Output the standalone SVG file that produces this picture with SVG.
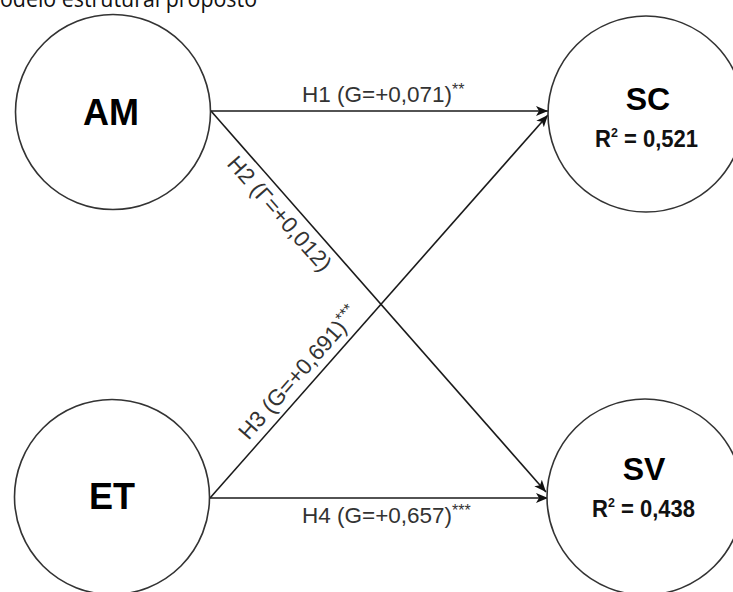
<svg xmlns="http://www.w3.org/2000/svg" width="733" height="592" viewBox="0 0 733 592">
<style>
.node{fill:#ffffff;stroke:#333333;stroke-width:1.6}
.lbl{font-family:"Liberation Sans",Arial,sans-serif;font-size:36px;font-weight:bold;fill:#000000;text-anchor:middle}
.lbl2{font-family:"Liberation Sans",Arial,sans-serif;font-size:32px;font-weight:bold;fill:#000000;text-anchor:middle}
.r2{font-family:"Liberation Sans",Arial,sans-serif;font-size:23px;font-weight:bold;fill:#111111}
.sup{font-size:13px}
.edge{stroke:#1a1a1a;stroke-width:1.6;fill:none;marker-end:url(#arr)}
.elbl{font-family:"Liberation Sans",Arial,sans-serif;font-size:22.5px;fill:#333333}
.ast{font-size:16px}
.title{font-family:"Open Sans","Liberation Sans",sans-serif;font-size:24px;fill:#111111}
</style>
<defs>
<marker id="arr" markerUnits="userSpaceOnUse" markerWidth="14" markerHeight="12" refX="12" refY="5" orient="auto">
<path d="M0,0 L12,5 L0,10 L3,5 z" fill="#111111"/>
</marker>
</defs>
<rect width="733" height="592" fill="#ffffff"/>
<text class="title" x="0" y="7" textLength="257" lengthAdjust="spacingAndGlyphs">odelo estrutural proposto</text>

<g id="connectors">
<line class="edge" x1="211" y1="111" x2="548" y2="111"/>
<line class="edge" x1="211" y1="111" x2="546" y2="492"/>
<line class="edge" x1="210" y1="498" x2="548" y2="115"/>
<line class="edge" x1="210" y1="498" x2="548" y2="498"/>
<text class="elbl" x="302" y="102">H1 (G=+0,071)<tspan class="ast" dy="-7">**</tspan></text>
<text class="elbl" transform="translate(279,214) rotate(48.7)" text-anchor="middle" y="7">H2 (Γ=+0,012)</text>
<text class="elbl" transform="translate(299,373) rotate(-48.7)" text-anchor="middle" y="7">H3 (G=+0,691)<tspan class="ast" dy="-7">***</tspan></text>
<text class="elbl" x="302" y="523">H4 (G=+0,657)<tspan class="ast" dy="-7">***</tspan></text>
</g>

<g id="AM">
<circle class="node" cx="113" cy="112" r="97.5"/>
<text class="lbl" x="111" y="125">AM</text>
</g>
<g id="ET">
<circle class="node" cx="112" cy="497" r="97.5"/>
<text class="lbl" x="112" y="509">ET</text>
</g>
<g id="SC">
<circle class="node" cx="646" cy="114" r="98"/>
<text class="lbl2" x="648" y="110">SC</text>
<text class="r2" x="595" y="147" textLength="103" lengthAdjust="spacingAndGlyphs">R<tspan class="sup" dy="-10">2</tspan><tspan dy="10"> = 0,521</tspan></text>
</g>
<g id="SV">
<circle class="node" cx="645" cy="497" r="98"/>
<text class="lbl2" x="644" y="480">SV</text>
<text class="r2" x="592" y="517" textLength="103" lengthAdjust="spacingAndGlyphs">R<tspan class="sup" dy="-10">2</tspan><tspan dy="10"> = 0,438</tspan></text>
</g>
</svg>
